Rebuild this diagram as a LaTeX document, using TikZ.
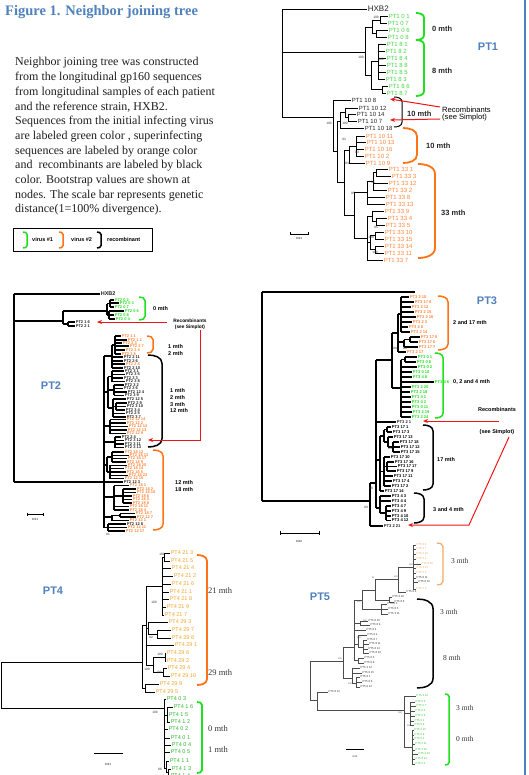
\documentclass[tikz,border=0pt]{standalone}
\usepackage{fontspec}
\setmainfont{Liberation Serif}
\newfontfamily\arl{Liberation Sans}
\usetikzlibrary{arrows.meta}
\definecolor{pgreen}{RGB}{70,215,70}
\definecolor{bgreen}{RGB}{30,225,30}
\definecolor{porange}{RGB}{255,135,60}
\definecolor{borange}{RGB}{255,115,20}
\definecolor{o4}{RGB}{245,165,45}
\definecolor{g4}{RGB}{45,185,45}
\definecolor{o5}{RGB}{245,170,100}
\definecolor{g5}{RGB}{50,200,50}
\definecolor{pblue}{RGB}{79,129,189}
\definecolor{pred}{RGB}{240,20,20}
\newcounter{lfc}
\newcommand\fs[1]{\fontsize{#1}{#1}\selectfont}
\newcommand\tL[5][]{\stepcounter{lfc}\draw[br] (#2,#4) -- (#3,#4) node[lab,#1] (lf\arabic{lfc}) {#5};}
\newcommand\tV[3]{\draw[br] (#1,#2) -- (#1,#3);}
\newcommand\tH[3]{\draw[br] (#1,#3) -- (#2,#3);}
\newcommand\brk[5][]{\draw[brk,#1] (#2-#5,#3) to[out=0,in=90] (#2,#3+0.6*#5) -- (#2,#4-0.6*#5) to[out=-90,in=0] (#2-#5,#4);}
\newcommand\bsv[3]{\stepcounter{lfc}\node[bs] (bs\arabic{lfc}) at (#1,#2) {#3};}
\begin{document}
\begin{tikzpicture}[x=1pt,y=-1pt,
 br/.style={line width=0.8pt},
 lab/.style={font=\arl\fs{6},inner sep=0.4pt,anchor=west,text=pgreen},
 og/.style={text=porange}, bk/.style={text=black!85}, gr/.style={text=pgreen},
 bs/.style={font=\arl\fs{3.2},inner sep=0pt,text=black!80},
 brk/.style={line width=1.8pt},
 mth/.style={font=\arl\bfseries\fs{7.5},anchor=west,inner sep=0pt,text=black!85},
 ptl/.style={font=\arl\bfseries\fs{11},text=pblue,inner sep=0pt},
 redar/.style={draw=pred,line width=1pt,-{Stealth[length=5pt,width=4pt]}},
 smt/.style={font=\arl\fs{3},inner sep=0pt},
 ser/.style={font=\fs{8.5},text=black!80,anchor=west,inner sep=0pt},
 para/.style={font=\fs{12},text=black!88,anchor=base west,inner sep=0pt},
 leg/.style={font=\arl\bfseries\fs{5.5},anchor=west,inner sep=0pt}]
\useasboundingbox (0,0) rectangle (529,775);
\fill[white] (0,0) rectangle (529,775);
\draw[pblue,line width=1.6pt] (525,0) -- (525,775);
% ---------- title and text
\node[font=\bfseries\fs{14.5},text=pblue,anchor=west,inner sep=0pt] (title) at (5,12) {Figure 1. Neighbor joining tree};
\node[para] (p1) at (15,66) {Neighbor joining tree was constructed};
\node[para] (p2) at (15,80.7) {from the longitudinal gp160 sequences};
\node[para] (p3) at (15,95.4) {from longitudinal samples of each patient};
\node[para] (p4) at (15,110.1) {and the reference strain, HXB2.};
\node[para] (p5) at (15,124.8) {Sequences from the initial infecting virus};
\node[para] (p6) at (15,139.5) {are labeled green color , superinfecting};
\node[para] (p7) at (15,154.2) {sequences are labeled by orange color};
\node[para] (p8) at (15,168.9) {and~ recombinants are labeled by black};
\node[para] (p9) at (15,183.6) {color. Bootstrap values are shown at};
\node[para] (p10) at (15,198.3) {nodes. The scale bar represents genetic};
\node[para] (p11) at (15,213) {distance(1=100\% divergence).};
% legend
\draw[line width=0.8pt] (13,228) rectangle (152,251);
\brk[bgreen,line width=1.5pt]{27}{232}{248}{4}
\node[leg] (lg1) at (32,240) {virus \#1};
\brk[borange,line width=1.5pt]{63}{232}{248}{4}
\node[leg] (lg2) at (71,240) {virus \#2};
\brk[black,line width=1.5pt]{101}{232}{248}{4}
\node[leg] (lg3) at (107,240) {recombinant};
% ================= PT1
\begin{scope}
\tV{282}{9}{117}
\tL[bk,font=\arl\fs{8}]{282}{367}{9}{HXB2}
\tH{282}{365}{52}
\tV{365}{27}{75}
\tH{365}{372}{27}
\tV{372}{20}{33.5}
\tH{372}{380}{20}
\tV{380}{16}{23}
\tL{380}{388}{16}{PT1 0 1}
\tL{380}{387}{23}{PT1 0 7}
\tH{372}{376}{33.5}
\tV{376}{30}{37}
\tL{376}{388}{30}{PT1 0 6}
\tL{376}{387}{37}{PT1 0 8}
\tH{365}{371}{75}
\tV{371}{61.5}{89.5}
\tH{371}{378}{61.5}
\tV{378}{44}{79}
\tL{378}{386}{44}{PT1 8 1}
\tL{378}{385}{51}{PT1 8 2}
\tL{378}{386}{58}{PT1 8 4}
\tL{378}{386}{65}{PT1 8 8}
\tL{378}{386}{72}{PT1 8 5}
\tL{378}{385}{79}{PT1 8 3}
\tH{371}{382}{89.5}
\tV{382}{86}{93}
\tL{382}{388}{86}{PT1 8 6}
\tL{382}{386}{93}{PT1 8 7}
\tH{282}{333}{117}
\tV{333}{100}{151}
\tL[bk]{333}{351}{100}{PT1 10 8}
\tH{333}{337}{151}
\tV{337}{121}{182}
\tH{337}{340}{121}
\tV{340}{112.75}{128}
\tH{340}{345}{112.75}
\tV{345}{108}{117.5}
\tL[bk]{345}{358}{108}{PT1 10 12}
\tH{345}{348}{117.5}
\tV{348}{114}{121}
\tL[bk]{348}{356}{114}{PT1 10 14}
\tL[bk]{348}{357}{121}{PT1 10 7}
\tL[bk]{340}{364}{128}{PT1 10 18}
\tH{337}{344}{182}
\tV{344}{150}{215}
\tH{344}{349}{150}
\tV{349}{146}{163}
\tH{349}{356}{146}
\tV{356}{136}{156}
\tL[og]{356}{365}{136}{PT1 10 11}
\tL[og]{356}{366}{142}{PT1 10 13}
\tL[og]{356}{364}{149}{PT1 10 16}
\tL[og]{356}{364}{156}{PT1 10 2}
\tL[og]{349}{365}{163}{PT1 10 9}
\tH{344}{354}{215}
\tV{354}{192}{238}
\tH{354}{367}{192}
\tV{367}{181}{204}
\tH{367}{373}{181}
\tV{373}{172.5}{190}
\tH{373}{376}{172.5}
\tV{376}{169}{176}
\tL[og]{376}{388}{169}{PT1 33 1}
\tL[og]{376}{391}{176}{PT1 33 3}
\tL[og]{373}{388}{183}{PT1 33 12}
\tL[og]{373}{387}{190}{PT1 33 2}
\tL[og]{367}{385}{197}{PT1 33 8}
\tL[og]{367}{385}{204}{PT1 33 13}
\tH{354}{367}{238}
\tV{367}{216}{260}
\tH{367}{372}{216}
\tV{372}{211}{221.5}
\tL[og]{372}{384}{211}{PT1 33 9}
\tH{372}{376}{221.5}
\tV{376}{218}{225}
\tL[og]{376}{387}{218}{PT1 33 4}
\tL[og]{376}{385}{225}{PT1 33 5}
\tH{367}{370}{242.5}
\tV{370}{235.5}{249.5}
\tH{370}{375}{235.5}
\tV{375}{232}{239}
\tL[og]{375}{384}{232}{PT1 33 10}
\tL[og]{375}{384}{239}{PT1 33 15}
\tH{370}{375}{249.5}
\tV{375}{246}{253}
\tL[og]{375}{384}{246}{PT1 33 14}
\tL[og]{375}{384}{253}{PT1 33 11}
\tL[og]{367}{383}{260}{PT1 33 7}
\bsv{376}{17}{100}
\bsv{361}{57}{100}
\bsv{381}{59}{100}
\bsv{329}{123}{100}
\bsv{345}{123}{100}
\bsv{344}{139}{93}
\bsv{357}{152}{93}
\bsv{347}{163}{93}
\bsv{353}{193}{95}
\bsv{373}{182}{95}
\bsv{376}{227}{95}
\bsv{371}{237}{100}
\bsv{375}{252}{100}
\brk[bgreen]{424}{13}{40}{8}
\brk[bgreen]{424}{40}{96}{8}
\brk[black,line width=1pt]{402}{97}{127}{8}
\brk[borange]{417}{128}{163}{14}
\brk[borange]{435}{164}{258}{17}
\node[mth] (m1a) at (432,29) {0 mth};
\node[mth] (m1b) at (432,71) {8 mth};
\node[mth] (m1c) at (407,114) {10 mth};
\node[mth] (m1d) at (426,146) {10 mth};
\node[mth] (m1e) at (441,213) {33 mth};
\node[font=\arl\fs{7.6},anchor=west,inner sep=0pt] (rc1) at (442,109.5) {Recombinants};
\node[font=\arl\fs{7.6},anchor=west,inner sep=0pt] (rs1) at (442,117.8) {(see Simplot)};
\coordinate (r1a) at (440,107);
\coordinate (r1b) at (390,99);
\coordinate (r1c) at (440,119);
\coordinate (r1d) at (390,120);
\draw[redar] (r1a) -- (r1b);
\draw[redar] (r1c) -- (r1d);
\draw[line width=0.7pt] (290,234) -- (308,234);
\draw[line width=0.5pt] (290,232.5) -- (290,235.5) (308,232.5) -- (308,235.5);
\node[smt] (sc1) at (299,238) {0.01};
\node[ptl] (pt1) at (488,47) {PT1};
\end{scope}
% ================= PT2
\begin{scope}[br/.style={line width=1.1pt},
 lab/.style={font=\arl\bfseries\fs{4},inner sep=0.3pt,anchor=west,text=porange},
 gr/.style={text=bgreen}, brk/.style={line width=1.5pt},
 mth/.style={font=\arl\bfseries\fs{5.5},anchor=west,inner sep=0pt,text=black}]
\tV{14}{294}{482}
\tL[bk,font=\arl\bfseries\fs{5.5}]{14}{100}{294}{HXB2}
\tH{14}{63}{321}
\tV{63}{311}{324}
\tH{63}{107}{311}
\tV{107}{303.5}{315}
\tH{107}{110}{303.5}
\tV{110}{300}{307}
\tL[gr]{110}{114}{300}{PT2 0 2}
\tL[gr]{110}{119}{303}{PT2 0 3}
\tL[gr]{110}{114}{307}{PT2 0 7}
\tH{107}{109}{315}
\tV{109}{311}{319}
\tL[gr]{109}{124}{311}{PT2 0 6}
\tL[gr]{109}{114}{315}{PT2 0 8}
\tL[gr]{109}{115}{319}{PT2 0 4}
\tH{63}{68}{324}
\tV{68}{322}{326}
\tL[bk]{68}{75}{322}{PT2 1 6}
\tL[bk]{68}{75}{326}{PT2 2 1}
\tH{14}{104}{482}
\tV{104}{356}{527.5}
\tH{104}{112}{356}
\tV{112}{345}{368}
\tH{112}{115}{345}
\tV{115}{336}{354}
\tL{115}{121}{336}{PT2 1 1}
\tL{115}{127}{340}{PT2 1 2}
\tL{115}{122}{343}{PT2 2 3}
\tL{115}{129}{346}{PT2 2 7}
\tL{115}{125}{350}{PT2 1 4}
\tL{115}{121}{354}{PT2 1 8}
\tL[bk]{112}{123}{357}{PT2 2 11}
\tL[bk]{112}{123}{361}{PT2 2 6}
\tL{112}{125}{364}{PT2 2 8}
\tL[bk]{112}{123}{368}{PT2 2 10}
\tH{104}{108}{392}
\tV{108}{376.5}{408}
\tH{108}{112}{376.5}
\tV{112}{371}{382}
\tL[bk]{112}{124}{371}{PT2 3 1}
\tL[bk]{112}{125}{374.5}{PT2 3 5}
\tL[bk]{112}{123}{378}{PT2 3 3}
\tL[bk]{112}{125}{381.5}{PT2 3 8}
\tH{108}{114}{390}
\tV{114}{385}{395}
\tL[bk]{114}{124}{385}{PT2 3 2}
\tL[bk]{114}{123}{388.5}{PT2 3 6}
\tL[bk]{114}{127}{392}{PT2 12 4}
\tL[bk]{114}{124}{395.5}{PT2 3 9}
\tH{108}{113}{408}
\tV{113}{399}{417}
\tL[bk]{113}{126}{399}{PT2 12 5}
\tH{113}{116}{406.5}
\tV{116}{403}{410}
\tL[bk]{116}{127}{403}{PT2 2 9}
\tL[bk]{116}{126}{406.5}{PT2 3 10}
\tL[bk]{116}{125}{410}{PT2 3 4}
\tL[bk]{113}{125}{413.5}{PT2 2 5}
\tL[bk]{113}{126}{417}{PT2 3 7}
\tH{104}{110}{426}
\tV{110}{419.5}{433.5}
\tL{110}{126}{419.5}{PT2 12 14}
\tL{110}{126}{423}{PT2 12 2}
\tL{110}{128}{426.5}{PT2 12 12}
\tL{110}{127}{430}{PT2 12 13}
\tL{110}{126}{433.5}{PT2 12 9}
\tH{104}{115}{442}
\tV{115}{437}{447.5}
\tL[bk]{115}{121}{437}{PT2 2 4}
\tL[bk]{115}{124}{440.5}{PT2 3 12}
\tL[bk]{115}{124}{444}{PT2 3 11}
\tL[bk]{115}{124}{447.5}{PT2 3 13}
\tH{104}{107}{465}
\tV{107}{457}{472}
\tH{107}{112}{457}
\tV{112}{452}{462}
\tL{112}{124}{452}{PT2 18 12}
\tL{112}{129}{455.3}{PT2 18 13}
\tL{112}{127}{458.6}{PT2 18 17}
\tL{112}{126}{462}{PT2 18 9}
\tH{107}{110}{472}
\tV{110}{465.3}{478.6}
\tL{110}{127}{465.3}{PT2 18 20}
\tL{110}{124}{468.6}{PT2 18 14}
\tL{110}{126}{472}{PT2 18 5}
\tL{110}{128}{475.3}{PT2 18 22}
\tL{110}{124}{478.6}{PT2 12 15}
\tL[bk]{104}{123}{482}{PT2 12 3}
\tH{104}{114}{497}
\tV{114}{485.5}{510}
\tL{114}{129}{485.5}{PT2 18 1}
\tH{114}{123}{496}
\tV{123}{489}{503}
\tL{123}{136}{489}{PT2 18 2}
\tL{123}{136}{492.5}{PT2 18 10}
\tL{123}{132}{496}{PT2 18 6}
\tL{123}{132}{499.5}{PT2 18 3}
\tL{123}{132}{503}{PT2 18 8}
\tL{114}{129}{506.5}{PT2 18 11}
\tL{114}{129}{510}{PT2 18 4}
\tH{104}{112}{517}
\tV{112}{515.25}{520.5}
\tH{112}{120}{515.25}
\tV{120}{513.5}{517}
\tL{120}{135}{513.5}{PT2 18 7}
\tL{120}{136}{517}{PT2 12 7}
\tL{112}{129}{520.5}{PT2 12 1}
\tH{104}{108}{527.5}
\tV{108}{524}{531}
\tL[bk]{108}{126}{524}{PT2 12 8}
\tL{108}{127}{527.5}{PT2 12 11}
\tL{108}{125}{531}{PT2 12 17}
\bsv{108}{534}{91}
\brk[bgreen]{145}{297}{320}{6}
\brk[borange]{153}{336}{353}{6}
\brk[black]{162}{355}{447}{14}
\brk[borange]{163}{450}{530}{10}
\node[mth] (m2a) at (153,309) {0 mth};
\node[mth] (m2b) at (168,347) {1 mth};
\node[mth] (m2c) at (168,354) {2 mth};
\node[mth] (m2d) at (170,391) {1 mth};
\node[mth] (m2e) at (170,398) {2 mth};
\node[mth] (m2f) at (170,404.5) {3 mth};
\node[mth] (m2g) at (170,411) {12 mth};
\node[mth] (m2h) at (175,483) {12 mth};
\node[mth] (m2i) at (175,489.5) {18 mth};
\node[font=\arl\bfseries\fs{4.8},inner sep=0pt] (rc2) at (190,320.5) {Recombinants};
\node[font=\arl\bfseries\fs{4.8},inner sep=0pt] (rs2) at (190,327) {(see Simplot)};
\coordinate (r2a) at (167,322);
\coordinate (r2b) at (97,322);
\coordinate (r2c) at (200,330);
\coordinate (r2d) at (200,440);
\coordinate (r2e) at (148,440);
\draw[redar] (r2a) -- (r2b);
\draw[redar] (r2c) -- (r2d) -- (r2e);
\draw[line width=0.8pt] (27,514) -- (43,514);
\draw[line width=0.5pt] (27,512.5) -- (27,515.5) (43,512.5) -- (43,515.5);
\node[smt] (sc2) at (35,519) {0.01};
\node[ptl] (pt2) at (51,386) {PT2};
\end{scope}
% ================= PT3
\begin{scope}[br/.style={line width=1.1pt},
 lab/.style={font=\arl\bfseries\fs{4.1},inner sep=0.3pt,anchor=west,text=black},
 og/.style={text=porange}, gr/.style={text=bgreen}, brk/.style={line width=1.5pt},
 mth/.style={font=\arl\bfseries\fs{5.5},anchor=west,inner sep=0pt,text=black}]
\tH{262}{415}{292}
\tV{262}{292}{501}
\tH{262}{370}{501}
\tV{370}{483}{526}
\tL[bk]{370}{383}{526}{PT3 2 21}
\tH{370}{376}{483}
\tV{376}{360}{508}
\tH{376}{392}{360}
\tV{392}{333}{388}
\tH{392}{398}{333}
\tV{398}{314}{352}
\tH{398}{401}{314}
\tV{401}{297}{332}
\tL[og]{401}{409}{297}{PT3 2 10}
\tL[og]{401}{414}{302}{PT3 17 8}
\tL[og]{401}{411}{307}{PT3 2 12}
\tL[og]{401}{414}{312}{PT3 2 15}
\tL[og]{401}{416}{317}{PT3 2 16}
\tL[og]{401}{412}{322}{PT3 2 3}
\tL[og]{401}{408}{327}{PT3 2 8}
\tL[og]{401}{410}{332}{PT3 2 14}
\tH{398}{404}{342}
\tV{404}{339.5}{347}
\tH{404}{410}{339.5}
\tV{410}{337}{342}
\tL[og]{410}{420}{337}{PT3 17 5}
\tL[og]{410}{418}{342}{PT3 17 6}
\tL[og]{404}{418}{347}{PT3 17 7}
\tL[og]{398}{406}{352}{PT3 2 17}
\tH{392}{401}{388}
\tV{401}{359.5}{417}
\tH{401}{405}{359.5}
\tV{405}{357}{362}
\tL[gr]{405}{417}{357}{PT3 0 1}
\tL[gr]{405}{416}{362}{PT3 0 6}
\tL[gr]{401}{417}{367}{PT3 0 2}
\tL[gr]{401}{412}{372}{PT3 0 10}
\tL[gr]{401}{412}{377}{PT3 4 8}
\tL[gr]{401}{434}{382}{PT3 4 6}
\tL[gr]{401}{411}{387}{PT3 2 20}
\tL[gr]{401}{410}{392}{PT3 2 18}
\tL[gr]{401}{411}{397}{PT3 4 1}
\tL[gr]{401}{411}{402}{PT3 4 2}
\tL[gr]{401}{411}{407}{PT3 0 11}
\tL[gr]{401}{412}{412}{PT3 2 19}
\tL[gr]{401}{411}{417}{PT3 2 24}
\tL[bk]{376}{396}{422}{PT3 2 1}
\tH{376}{380}{460}
\tV{380}{436}{491}
\tH{380}{384}{436}
\tV{384}{429.5}{442}
\tH{384}{387}{429.5}
\tV{387}{427}{432}
\tL{387}{391}{427}{PT3 17 1}
\tL{387}{392}{432}{PT3 17 3}
\tH{384}{388}{442}
\tV{388}{437}{447}
\tL{388}{393}{437}{PT3 17 13}
\tH{388}{393}{447}
\tV{393}{442}{452}
\tL{393}{399}{442}{PT3 17 18}
\tL{393}{400}{447}{PT3 17 12}
\tL{393}{400}{452}{PT3 17 15}
\tH{380}{384}{471.5}
\tV{384}{457}{486}
\tL{384}{390}{457}{PT3 17 10}
\tH{384}{387}{466.5}
\tV{387}{462}{471}
\tL{387}{394}{462}{PT3 17 16}
\tL{387}{397}{466.5}{PT3 17 17}
\tL{387}{396}{471}{PT3 17 9}
\tL{384}{393}{476}{PT3 17 11}
\tL{384}{392}{481}{PT3 17 4}
\tL{384}{391}{486}{PT3 17 2}
\tL{380}{384}{491}{PT3 17 14}
\tH{376}{380}{508}
\tV{380}{496}{513}
\tL{380}{391}{496}{PT3 4 3}
\tL{380}{391}{501}{PT3 4 4}
\tH{380}{386}{513}
\tV{386}{506}{520}
\tL{386}{391}{506}{PT3 4 7}
\tL{386}{391}{511}{PT3 4 9}
\tL{386}{391}{516}{PT3 4 10}
\tL{386}{391}{520.5}{PT3 4 12}
\bsv{395}{348}{99}
\bsv{405}{348}{99}
\bsv{390}{448}{99}
\bsv{371}{488}{99}
\bsv{366}{507}{99}
\brk[borange]{448}{296}{350}{10}
\brk[bgreen]{443}{353}{418}{8}
\brk[black]{433}{425}{490}{10}
\brk[black]{424}{493}{523}{10}
\node[mth] (m3a) at (453,323) {2 and 17 mth};
\node[mth] (m3b) at (453,382) {0, 2 and 4 mth};
\node[mth] (m3c) at (437,460) {17 mth};
\node[mth] (m3d) at (433,510) {3 and 4 mth};
\node[font=\arl\bfseries\fs{5.5},inner sep=0pt] (rc3) at (497,410) {Recombinants};
\node[font=\arl\bfseries\fs{5.5},inner sep=0pt] (rs3) at (497,432) {(see Simplot)};
\coordinate (r3a) at (499,421);
\coordinate (r3b) at (423,421);
\coordinate (r3c) at (509,437);
\coordinate (r3d) at (469,525);
\coordinate (r3e) at (408,525);
\draw[redar] (r3a) -- (r3b);
\draw[redar] (r3c) -- (r3d) -- (r3e);
\draw[line width=0.8pt] (280,533) -- (319,533);
\draw[line width=0.5pt] (280,531) -- (280,535) (319,531) -- (319,535);
\node[smt] (sc3) at (299,541) {0.02};
\node[ptl] (pt3) at (487,301) {PT3};
\end{scope}
% ================= PT4
\begin{scope}[br/.style={line width=0.8pt},
 lab/.style={font=\arl\fs{5.5},inner sep=0.4pt,anchor=west,text=o4},
 gr/.style={text=g4}]
\tV{1}{662}{708}
\tH{1}{142}{662}
\tH{1}{164}{708}
\tV{142}{625}{688}
\tH{142}{146}{625}
\tV{146}{586}{665}
\tH{146}{162}{586}
\tV{162}{557}{615}
\tH{162}{164}{557}
\tV{164}{553}{561}
\tL{164}{170}{553}{PT4 21 3}
\tL{164}{170}{561}{PT4 21 5}
\tL{162}{171}{568}{PT4 21 4}
\tL{162}{173}{576}{PT4 21 2}
\tL{162}{171}{584}{PT4 21 6}
\tL{162}{169}{592}{PT4 21 1}
\tL{162}{169}{599}{PT4 21 8}
\tL{162}{166}{607}{PT4 21 9}
\tL{162}{164}{615}{PT4 21 7}
\tH{146}{148}{628}
\tV{148}{622}{634}
\tL{148}{168}{622}{PT4 29 3}
\tH{148}{157}{634}
\tV{157}{630}{638}
\tL{157}{171}{630}{PT4 29 7}
\tL{157}{171}{638}{PT4 29 8}
\tL{146}{174}{645}{PT4 29 1}
\tH{146}{153}{665}
\tV{153}{657}{672}
\tH{153}{165}{657}
\tV{165}{653}{661}
\tL{165}{166}{653}{PT4 29 6}
\tL{165}{166}{661}{PT4 29 2}
\tH{153}{163}{672}
\tV{163}{668}{676}
\tL{163}{167}{668}{PT4 29 4}
\tL{163}{170}{676}{PT4 29 10}
\tH{142}{145}{688}
\tV{145}{684}{692}
\tL{145}{159}{684}{PT4 29 9}
\tL{145}{155}{692}{PT4 29 5}
\tV{164}{699}{768}
\tL[gr]{164}{166}{699}{PT4 0 3}
\tH{164}{167}{715}
\tV{167}{707}{722}
\tL[gr]{167}{173}{707}{PT4 1 6}
\tL[gr]{167}{168}{715}{PT4 1 5}
\tL[gr]{167}{170}{722}{PT4 1 2}
\tL[gr]{164}{168}{729}{PT4 0 2}
\tL[gr]{164}{170}{738}{PT4 0 1}
\tL[gr]{164}{171}{745}{PT4 0 4}
\tL[gr]{164}{170}{752}{PT4 0 5}
\tH{164}{166}{768}
\tV{166}{761}{772}
\tL[gr]{166}{169}{761}{PT4 1 1}
\tH{166}{168}{772}
\tV{168}{769}{776}
\tL[gr]{168}{171}{769}{PT4 1 3}
\tL[gr]{168}{170}{776}{PT4 1 4}
\bsv{162}{554}{100}
\bsv{154}{602}{100}
\bsv{151}{637}{92}
\bsv{160}{654}{100}
\bsv{147}{669}{100}
\bsv{159}{672}{100}
\bsv{155}{712}{100}
\bsv{160}{769}{86}
\brk[borange]{207}{555}{685}{10}
\brk[bgreen]{202}{702}{773}{5}
\node[ser] (m4a) at (208,591) {21 mth};
\node[ser] (m4b) at (208,673) {29 mth};
\node[ser] (m4c) at (208,729) {0 mth};
\node[ser] (m4d) at (208,750) {1 mth};
\draw[line width=0.8pt] (94,753) -- (123,753);
\node[smt] (sc4) at (108,764) {0.01};
\node[ptl] (pt4) at (53,591) {PT4};
\end{scope}
% ================= PT5
\begin{scope}[br/.style={line width=0.65pt,draw=black!70},
 lab/.style={font=\arl\fs{2.8},inner sep=0.3pt,anchor=west,text=black!80},
 og/.style={text=o5}, gr/.style={text=g5},
 bs/.style={font=\arl\fs{2.2},inner sep=0pt,text=black!70}]
\tV{310}{661}{700}
\tH{310}{343}{661}
\tH{310}{317}{700}
\tV{317}{692}{710}
\tL{317}{328}{692}{PT5 8 12}
\tH{317}{404}{710}
\tV{404}{696}{747}
\tL[gr]{404}{416}{696}{PT5 3 12}
\tH{404}{410}{713}
\tV{410}{702}{725}
\tL[gr]{410}{415}{702}{PT5 0 5}
\tL[gr]{410}{416}{706}{PT5 0 7}
\tL[gr]{410}{415}{711}{PT5 0 3}
\tL[gr]{410}{415}{716}{PT5 0 6}
\tL[gr]{410}{414}{721}{PT5 0 1}
\tL[gr]{410}{414}{725}{PT5 0 8}
\tH{404}{412}{747}
\tV{412}{730}{764}
\tL[gr]{412}{414}{730}{PT5 0 10}
\tL[gr]{412}{414}{735}{PT5 0 9}
\tL[gr]{412}{414}{739}{PT5 0 4}
\tL[gr]{412}{415}{744}{PT5 0 11}
\tL[gr]{412}{415}{750}{PT5 3 10}
\tL[gr]{412}{418}{754}{PT5 3 13}
\tL[gr]{412}{415}{759}{PT5 0 14}
\tL[gr]{412}{415}{764}{PT5 0 2}
\tV{343}{647}{678}
\tH{343}{354}{647}
\tH{343}{352}{678}
\tV{352}{668}{683}
\tL{352}{360}{668}{PT5 3 14}
\tL{352}{362}{673}{PT5 8 15}
\tH{352}{356}{683}
\tV{356}{677}{687}
\tL{356}{360}{677}{PT5 8 1}
\tL{356}{362}{682}{PT5 8 6}
\tL{356}{360}{687}{PT5 8 13}
\tV{354}{600}{660}
\tH{354}{362}{600}
\tV{362}{590}{609}
\tH{362}{375}{590}
\tV{375}{579.5}{600}
\tH{375}{398}{579.5}
\tV{398}{567}{592}
\tH{398}{413}{567}
\tV{413}{545}{589}
\tL[og]{413}{416}{545}{PT5 3 8}
\tL[og]{413}{416}{549}{PT5 3 7}
\tL[og]{413}{416}{554}{PT5 3 10}
\tL[og]{413}{416}{559}{PT5 3 4}
\tL[og]{413}{421}{564}{PT5 3 16}
\tL[og]{413}{416}{568}{PT5 3 15}
\tL[og]{413}{416}{573}{PT5 3 2}
\tL{413}{416}{578}{PT5 8 11}
\tL{413}{418}{582}{PT5 8 10}
\tL[og]{413}{416}{589}{PT5 3 3}
\tL{398}{406}{592}{PT5 8 2}
\tH{375}{389}{600}
\tV{389}{597}{602}
\tL{389}{392}{597}{PT5 3 18}
\tL{389}{394}{602}{PT5 8 8}
\tH{362}{381}{609}
\tV{381}{604}{614}
\tL{381}{387}{604}{PT5 8 3}
\tL{381}{388}{609}{PT5 8 5}
\tL{381}{388}{614}{PT5 3 11}
\tH{354}{360}{623}
\tV{360}{621}{625}
\tL{360}{368}{621}{PT5 8 16}
\tL{360}{370}{625}{PT5 8 9}
\tL{354}{366}{630}{PT5 8 4}
\tH{354}{358}{644}
\tV{358}{635}{647}
\tL{358}{367}{635}{PT5 8 2}
\tH{358}{363}{647}
\tV{363}{640}{653}
\tL{363}{367}{640}{PT5 8 7}
\tL{363}{369}{644}{PT5 8 11}
\tL{363}{368}{649}{PT5 8 14}
\tL{363}{369}{653}{PT5 8 10}
\tH{354}{358}{660}
\tV{358}{658}{663}
\tL{358}{364}{658}{PT5 8 5}
\tL{358}{364}{663}{PT5 8 8}
\bsv{411}{565}{100}
\bsv{396}{577}{100}
\bsv{373}{578}{91}
\bsv{359}{602}{100}
\bsv{365}{621}{100}
\bsv{359}{638}{100}
\bsv{340}{659}{100}
\bsv{350}{684}{100}
\bsv{400}{713}{100}
\bsv{409}{726}{100}
\brk[o5,line width=1.2pt]{443}{543}{585}{6}
\brk[black,line width=1.5pt]{433}{599}{688}{16}
\brk[bgreen,line width=1.5pt]{449}{694}{765}{4}
\node[ser,font=\fs{7.5}] (m5a) at (451,561) {3 mth};
\node[ser,font=\fs{7.5}] (m5b) at (440,612) {3 mth};
\node[ser,font=\fs{7.5}] (m5c) at (443,658) {8 mth};
\node[ser,font=\fs{7.5}] (m5d) at (456,708) {3 mth};
\node[ser,font=\fs{7.5}] (m5e) at (456,739) {0 mth};
\draw[line width=0.7pt] (346,749) -- (364,749);
\node[smt,font=\arl\fs{2.4}] (sc5) at (355,757) {0.01};
\node[ptl] (pt5) at (320,597) {PT5};
\end{scope}
\end{tikzpicture}
\end{document}
